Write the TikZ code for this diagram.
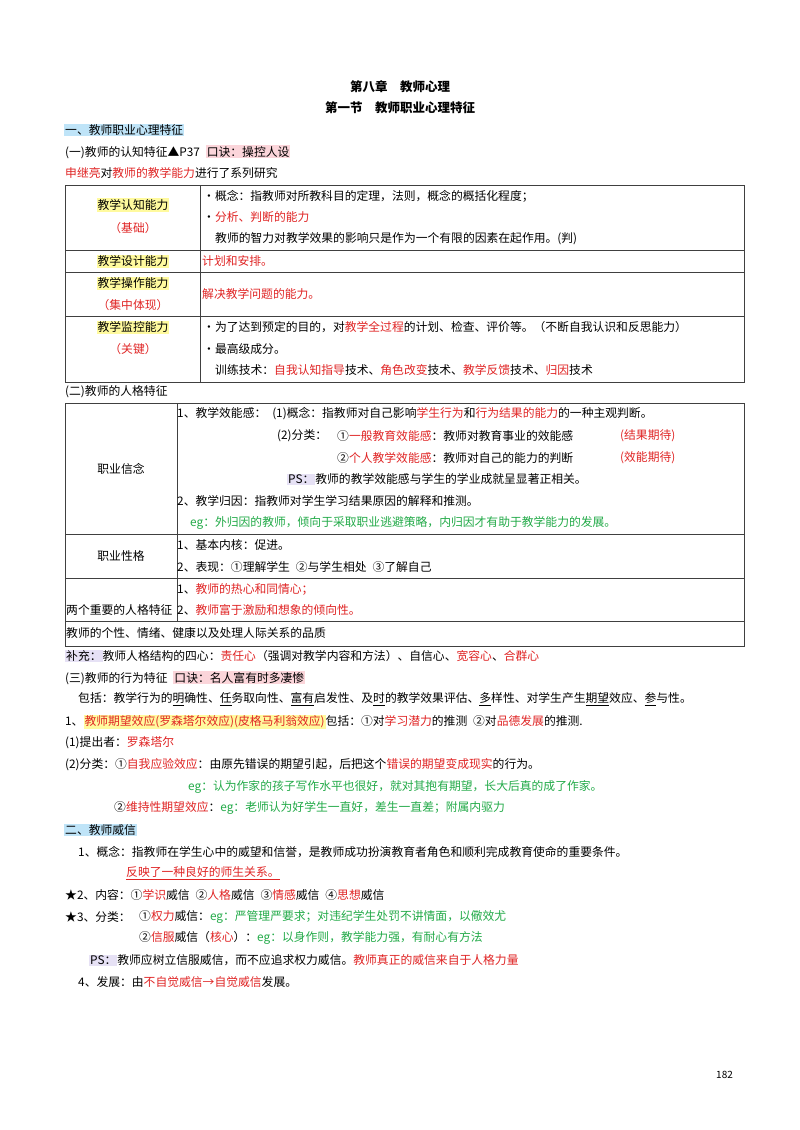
\documentclass[tikz,border=0pt]{standalone}
\usepackage{fontspec}
\setmainfont{Noto Sans CJK SC}
\usepackage{xcolor}
\definecolor{hred}{HTML}{E02424}
\definecolor{hgreen}{HTML}{22AA48}
\definecolor{bgyellow}{HTML}{FFFA9E}
\definecolor{bgblue}{HTML}{BFE4F8}
\definecolor{bgpink}{HTML}{FBD5DA}
\definecolor{bglav}{HTML}{E6E1F5}
\newcommand{\R}[1]{\textcolor{hred}{#1}}
\newcommand{\G}[1]{\textcolor{hgreen}{#1}}
\newcommand{\hl}[2]{{\setlength{\fboxsep}{1pt}\colorbox{#1}{#2}}}
\newcommand{\ul}[1]{\underline{#1}}
\tikzset{
  txt/.style={anchor=west, inner sep=0pt, font=\fontsize{11.8}{14}\selectfont},
  ctr/.style={txt, anchor=center},
  grid line/.style={draw=black!75, line width=0.6pt}
}
\begin{document}
\begin{tikzpicture}[x=1pt,y=-1pt]
    % page
    \useasboundingbox (0,0) rectangle (800,1130);
    \fill[white] (0,0) rectangle (800,1130);

    % titles
    \node[ctr, font=\fontsize{12.5}{14}\bfseries] (title) at (400,87) {第八章\quad 教师心理};
    \node[ctr, font=\fontsize{12.5}{14}\bfseries] (sect) at (400,108) {第一节\quad 教师职业心理特征};
    \node[txt] (h1) at (64,130) {\hl{bgblue}{一、教师职业心理特征}};
    \node[txt] (h11) at (65,152) {(一)教师的认知特征▲P37\enspace \hl{bgpink}{口诀：操控人设}};
    \node[txt] (intro) at (65,173) {\R{申继亮}对\R{教师的教学能力}进行了系列研究};

    % table one
    \draw[grid line] (65,185) rectangle (744,382);
    \foreach \yy in {250,272,316} \draw[grid line] (65,\yy) -- (744,\yy);
    \draw[grid line] (200,185) -- (200,382);
    \node[ctr] (a1) at (133,205) {\hl{bgyellow}{教学认知能力}};
    \node[ctr] (a1b) at (133,228) {\R{（基础）}};
    \node[txt] (a1r1) at (203,196) {・概念：指教师对所教科目的定理，法则，概念的概括化程度；};
    \node[txt] (a1r2) at (203,217) {・\R{分析、判断的能力}};
    \node[txt] (a1r3) at (215,239) {教师的智力对教学效果的影响只是作为一个有限的因素在起作用。(判)};
    \node[ctr] (a2) at (133,261) {\hl{bgyellow}{教学设计能力}};
    \node[txt] (a2r) at (202,261) {\R{计划和安排。}};
    \node[ctr] (a3) at (133,283) {\hl{bgyellow}{教学操作能力}};
    \node[ctr] (a3b) at (133,305) {\R{（集中体现）}};
    \node[txt] (a3r) at (202,294) {\R{解决教学问题的能力。}};
    \node[ctr] (a4) at (133,327) {\hl{bgyellow}{教学监控能力}};
    \node[ctr] (a4b) at (133,349) {\R{（关键）}};
    \node[txt] (a4r1) at (203,327) {・为了达到预定的目的，对\R{教学全过程}的计划、检查、评价等。（不断自我认识和反思能力）};
    \node[txt] (a4r2) at (203,349) {・最高级成分。};
    \node[txt] (a4r3) at (215,370) {训练技术：\R{自我认知指导}技术、\R{角色改变}技术、\R{教学反馈}技术、\R{归因}技术};

    % table two
    \node[txt] (h12) at (65,392) {(二)教师的人格特征};
    \draw[grid line] (65,403) rectangle (744,646);
    \foreach \yy in {534,578,621} \draw[grid line] (65,\yy) -- (744,\yy);
    \draw[grid line] (177,403) -- (177,621);
    \node[ctr] (b1) at (121,469) {职业信念};
    \node[txt] (b1r1) at (177,414) {1、教学效能感：\enspace (1)概念：指教师对自己影响\R{学生行为}和\R{行为结果的能力}的一种主观判断。};
    \node[txt] (b1r2) at (277,436) {(2)分类：};
    \node[txt] (b1r3) at (337,436) {①\R{一般教育效能感}：教师对教育事业的效能感};
    \node[txt] (b1r3b) at (620,436) {\R{(结果期待)}};
    \node[txt] (b1r4) at (337,458) {②\R{个人教学效能感}：教师对自己的能力的判断};
    \node[txt] (b1r4b) at (620,458) {\R{(效能期待)}};
    \node[txt] (b1r5) at (287,479) {\hl{bglav}{PS：}教师的教学效能感与学生的学业成就呈显著正相关。};
    \node[txt] (b1r6) at (177,501) {2、教学归因：指教师对学生学习结果原因的解释和推测。};
    \node[txt] (b1r7) at (190,523) {\G{eg：外归因的教师，倾向于采取职业逃避策略，内归因才有助于教学能力的发展。}};
    \node[ctr] (b2) at (121,556) {职业性格};
    \node[txt] (b2r1) at (177,545) {1、基本内核：促进。};
    \node[txt] (b2r2) at (177,567) {2、表现：①理解学生\enspace ②与学生相处\enspace ③了解自己};
    \node[txt] (b3) at (66,610) {两个重要的人格特征};
    \node[txt] (b3r1) at (177,589) {1、\R{教师的热心和同情心；}};
    \node[txt] (b3r2) at (177,610) {2、\R{教师富于激励和想象的倾向性。}};
    \node[txt] (b4) at (66,633) {教师的个性、情绪、健康以及处理人际关系的品质};
    \node[txt] (supp) at (65,656) {\hl{bglav}{补充：}教师人格结构的四心：\R{责任心}（强调对教学内容和方法）、自信心、\R{宽容心}、\R{合群心}};

    % behaviour
    \node[txt] (h13) at (65,678) {(三)教师的行为特征\enspace \hl{bgpink}{口诀：名人富有时多凄惨}};
    \node[txt] (c0) at (78,699) {包括：教学行为的\ul{明}确性、\ul{任}务取向性、\ul{富有}启发性、及\ul{时}的教学效果评估、\ul{多}样性、对学生产生\ul{期望}效应、\ul{参}与性。};
    \node[txt] (c1) at (65,722) {1、\hl{bgyellow}{\R{教师期望效应(罗森塔尔效应)(皮格马利翁效应)}}包括：①对\R{学习潜力}的推测\enspace ②对\R{品德发展}的推测.};
    \node[txt] (c2) at (65,743) {(1)提出者：\R{罗森塔尔}};
    \node[txt] (c3) at (65,765) {(2)分类：①\R{自我应验效应}：由原先错误的期望引起，后把这个\R{错误的期望变成现实}的行为。};
    \node[txt] (c4) at (188,787) {\G{eg：认为作家的孩子写作水平也很好，就对其抱有期望，长大后真的成了作家。}};
    \node[txt] (c5) at (114,808) {②\R{维持性期望效应}：\G{eg：老师认为好学生一直好，差生一直差；附属内驱力}};

    % authority
    \node[txt] (h2) at (64,830) {\hl{bgblue}{二、教师威信}};
    \node[txt] (d1) at (78,852) {1、概念：指教师在学生心中的威望和信誉，是教师成功扮演教育者角色和顺利完成教育使命的重要条件。};
    \node[txt] (d1b) at (126,873) {\R{\ul{反映了一种良好的师生关系。}}};
    \node[txt] (d2) at (65,895) {★2、内容：①\R{学识}威信\enspace ②\R{人格}威信\enspace ③\R{情感}威信\enspace ④\R{思想}威信};
    \node[txt] (d3) at (65,917) {★3、分类：};
    \node[txt] (d3a) at (139,917) {①\R{权力}威信：\G{eg：严管理严要求；对违纪学生处罚不讲情面，以儆效尤}};
    \node[txt] (d3b) at (139,938) {②\R{信服}威信（\R{核心}）：\G{eg：以身作则，教学能力强，有耐心有方法}};
    \node[txt] (d4) at (89,960) {\hl{bglav}{PS：}教师应树立信服威信，而不应追求权力威信。\R{教师真正的威信来自于人格力量}};
    \node[txt] (d5) at (78,982) {4、发展：由\R{不自觉威信→自觉威信}发展。};

    % page number
    \node[txt, font=\fontsize{10}{12}\selectfont] (pg) at (716,1075) {182};
\end{tikzpicture}
\end{document}
